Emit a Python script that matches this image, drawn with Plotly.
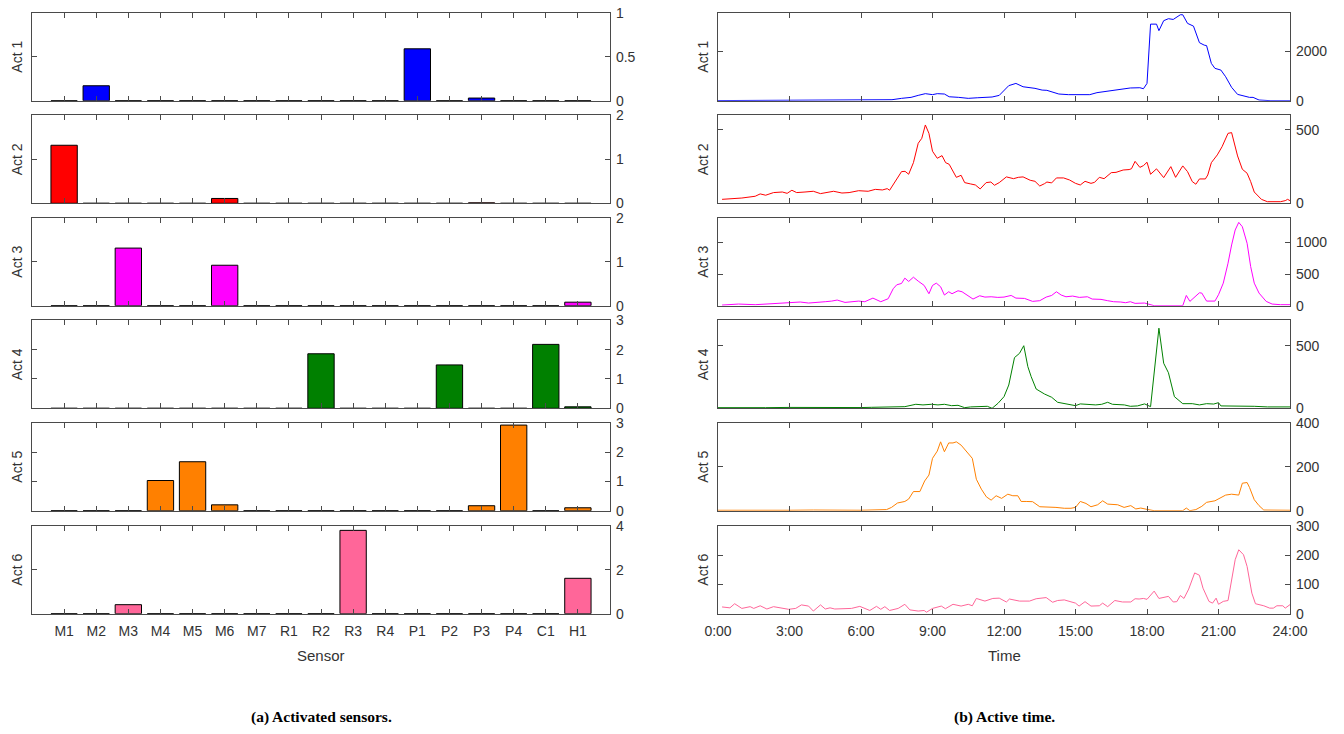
import plotly.graph_objects as go

# ---------------- data ----------------
sensors = ["M1", "M2", "M3", "M4", "M5", "M6", "M7", "R1", "R2", "R3", "R4",
           "P1", "P2", "P3", "P4", "C1", "H1"]
act_names = ["Act 1", "Act 2", "Act 3", "Act 4", "Act 5", "Act 6"]
act_colors = ["#0000ff", "#ff0000", "#ff00ff", "#008000", "#ff8000", "#ff6699"]

act1_sensor = [0, 0.17, 0, 0, 0, 0, 0, 0, 0, 0, 0, 0.59, 0, 0.03, 0, 0, 0]
act2_sensor = [1.32, 0, 0, 0, 0, 0.11, 0, 0, 0, 0, 0, 0, 0, 0.01, 0, 0, 0]
act3_sensor = [0, 0, 1.31, 0, 0, 0.92, 0, 0, 0, 0, 0, 0, 0, 0, 0, 0, 0.08]
act4_sensor = [0, 0, 0, 0, 0, 0, 0, 0, 1.86, 0, 0, 0, 1.48, 0, 0, 2.18, 0.05]
act5_sensor = [0, 0, 0, 1.03, 1.67, 0.20, 0, 0, 0, 0, 0, 0, 0, 0.17, 2.92, 0, 0.10]
act6_sensor = [0, 0, 0.41, 0, 0, 0, 0, 0, 0, 3.79, 0, 0, 0, 0, 0, 0, 1.61]

sensor_ranges = [1, 2, 2, 3, 3, 4]
sensor_dticks = [0.5, 1, 1, 1, 1, 2]

time_tickvals = [0, 3, 6, 9, 12, 15, 18, 21, 24]
time_ticktext = ["0:00", "3:00", "6:00", "9:00", "12:00", "15:00", "18:00", "21:00", "24:00"]

act1_time = [0, 7.0, 7.3, 7.7, 8.1, 8.4, 8.7, 9.0, 9.2, 9.5, 9.7, 10.1, 10.5, 10.9, 11.5,
             11.8, 12.0, 12.2, 12.5, 12.8, 13.3, 13.6, 13.8, 14.3, 14.7, 15.0, 15.4, 15.6,
             15.9, 16.2, 16.5, 16.9, 17.3, 17.7, 17.85, 18.0, 18.15, 18.4, 18.5, 18.7, 18.9,
             19.1, 19.25, 19.4, 19.5, 19.7, 19.95, 20.2, 20.4, 20.5, 20.7, 20.85, 21.1, 21.3,
             21.55, 21.8, 22.3, 22.45, 22.7, 23.2, 24]
act1_count = [5, 10, 40, 95, 135, 215, 285, 245, 285, 270, 160, 135, 95, 120, 150,
              215, 405, 610, 700, 565, 500, 430, 420, 270, 245, 245, 215, 245,
              325, 365, 405, 445, 515, 525, 485, 700, 3100, 3100, 2835, 3240, 3320,
              3290, 3400, 3480, 3480, 3130, 3020, 2350, 2250, 2230, 1510, 1310, 1240, 970,
              540, 256, 135, 135, 27, 0, 0]

act2_time = [0.17, 0.6, 1.0, 1.56, 1.77, 2.0, 2.33, 2.7, 2.9, 3.1,
             3.3, 3.65, 4.0, 4.3, 4.6, 4.85, 5.2, 5.5, 5.9, 6.3,
             6.6, 6.9, 7.1, 7.2, 7.7, 7.85, 8.0, 8.2, 8.4, 8.55,
             8.7, 8.85, 9.0, 9.2, 9.4, 9.55, 9.7, 10.0, 10.2, 10.35,
             10.6, 10.8, 11.0, 11.25, 11.45, 11.6, 11.8, 12.1, 12.4, 12.6,
             12.8, 13.1, 13.3, 13.5, 13.7, 13.8, 14.0, 14.2, 14.5, 14.75,
             15.0, 15.2, 15.4, 15.65, 15.8, 16.0, 16.2, 16.5, 16.7, 17.0,
             17.25, 17.35, 17.5, 17.7, 17.85, 18.0, 18.15, 18.4, 18.7, 19.0,
             19.2, 19.5, 19.7, 19.9, 20.05, 20.2, 20.45, 20.55, 20.7, 20.95,
             21.15, 21.4, 21.55, 21.8, 22.0, 22.2, 22.35, 22.5, 22.8, 23.05,
             23.6, 23.8, 23.9, 24.0]
act2_count = [27, 30, 36, 48, 64, 55, 73, 77, 68, 89,
              73, 77, 82, 66, 77, 82, 70, 73, 86, 82,
              95, 91, 100, 89, 216, 218, 198, 277, 409, 443,
              534, 477, 355, 307, 325, 277, 266, 177, 191, 141,
              132, 125, 98, 141, 145, 123, 141, 180, 168, 177,
              180, 157, 150, 118, 134, 145, 139, 173, 173, 159,
              136, 125, 150, 136, 143, 177, 168, 209, 211, 227,
              230, 236, 286, 245, 257, 280, 198, 235, 175, 250,
              177, 255, 216, 148, 130, 166, 166, 193, 277, 330,
              386, 477, 482, 323, 232, 205, 148, 77, 27, 11,
              11, 18, 27, 18]

act3_time = [0.17, 0.86, 1.56, 2.26, 2.6, 2.96, 3.17, 3.45, 3.8, 4.14,
             4.5, 4.77, 5.0, 5.33, 5.68, 5.9, 6.16, 6.5, 6.83, 7.14,
             7.35, 7.5, 7.7, 7.84, 8.0, 8.2, 8.4, 8.65, 8.85, 9.0,
             9.16, 9.34, 9.5, 9.68, 9.82, 10.07, 10.24, 10.5, 10.7, 10.98,
             11.2, 11.46, 11.74, 12.0, 12.3, 12.5, 12.86, 13.2, 13.5, 13.77,
             14.0, 14.2, 14.4, 14.6, 14.88, 15.16, 15.5, 15.7, 16.07, 16.35,
             16.6, 16.9, 17.1, 17.3, 17.5, 17.9, 18.1, 18.3, 19.5, 19.65,
             19.8, 20.0, 20.2, 20.3, 20.5, 20.85, 21.0, 21.2, 21.4, 21.55,
             21.7, 21.85, 22.0, 22.2, 22.35, 22.5, 22.7, 23.0, 23.25, 23.6,
             24.0]
act3_count = [10, 26, 16, 31, 42, 42, 58, 58, 42, 58,
              63, 73, 89, 52, 58, 73, 63, 120, 63, 110,
              267, 330, 351, 435, 383, 450, 388, 320, 189, 320,
              356, 299, 168, 220, 189, 236, 220, 162, 105, 157,
              136, 141, 131, 136, 162, 120, 115, 68, 79, 136,
              162, 220, 168, 141, 152, 131, 141, 105, 100, 79,
              63, 58, 47, 63, 37, 42, 21, 0, 0, 162,
              68, 131, 204, 199, 73, 73, 173, 356, 671, 959,
              1195, 1315, 1247, 985, 618, 356, 199, 68, 26, 16,
              16]

act4_time = [0, 1, 2, 3, 4, 5, 6, 6.45, 7.3, 7.84,
             8.3, 8.6, 8.95, 9.23, 9.5, 9.8, 10.07, 10.35, 10.6, 11.05,
             11.3, 11.5, 11.75, 12.0, 12.2, 12.44, 12.65, 12.83, 13.0, 13.14,
             13.35, 13.7, 14.0, 14.25, 14.5, 14.8, 15.0, 15.2, 15.5, 15.85,
             16.1, 16.35, 16.55, 17.05, 17.3, 17.6, 17.9, 18.15, 18.5, 18.7,
             18.9, 19.15, 19.5, 19.9, 20.2, 20.5, 20.8, 21.0, 21.1, 21.5,
             22.0, 22.5, 23.05, 24.0]
act4_count = [5, 8, 5, 7, 5, 8, 6, 8, 8, 13,
              32, 27, 32, 27, 32, 21, 24, 5, 11, 13,
              16, 0, 40, 93, 186, 405, 439, 500, 333, 253,
              154, 114, 88, 48, 37, 24, 21, 35, 32, 27,
              32, 48, 32, 27, 16, 19, 35, 13, 640, 360,
              284, 93, 37, 37, 27, 37, 34, 45, 19, 19,
              21, 16, 11, 11]

act5_time = [0, 1, 2, 3, 4, 5, 6, 7.07, 7.28, 7.53,
             7.84, 8.0, 8.2, 8.47, 8.67, 8.85, 9.0, 9.2, 9.34, 9.5,
             9.68, 9.86, 10.0, 10.2, 10.4, 10.67, 10.84, 11.05, 11.26, 11.46,
             11.67, 11.9, 12.16, 12.37, 12.58, 12.72, 12.93, 13.2, 13.5, 13.83,
             14.18, 14.53, 14.81, 15.0, 15.2, 15.44, 15.65, 15.93, 16.14, 16.35,
             16.77, 17.04, 17.32, 17.53, 17.74, 18.0, 18.3, 19.5, 19.65, 19.8,
             20.05, 20.3, 20.5, 20.85, 21.1, 21.3, 21.55, 21.85, 22.0, 22.2,
             22.3, 22.5, 22.7, 22.9, 24.0]
act5_count = [2, 1, 3, 2, 3, 2, 2, 5, 15, 35,
              42, 53, 87, 87, 135, 162, 238, 271, 313, 268,
              308, 308, 313, 298, 274, 238, 143, 98, 63, 48,
              68, 56, 75, 68, 68, 42, 42, 41, 18, 18,
              15, 11, 11, 15, 42, 33, 18, 27, 45, 30,
              27, 15, 23, 8, 12, 6, 0, 0, 12, 0,
              5, 20, 38, 45, 60, 71, 75, 71, 125, 128,
              106, 50, 23, 3, 2]

act6_time = [0.17, 0.5, 0.7, 1.0, 1.35, 1.5, 1.77, 2.05, 2.33, 2.68,
             2.96, 3.26, 3.5, 3.8, 4.0, 4.3, 4.5, 4.7, 4.9, 5.6,
             5.95, 6.37, 6.65, 6.83, 7.0, 7.2, 7.56, 7.84, 8.05, 8.4,
             8.65, 8.75, 9.0, 9.37, 9.54, 9.86, 10.2, 10.5, 10.67, 10.84,
             11.2, 11.53, 11.8, 12.1, 12.23, 12.65, 13.07, 13.35, 13.77, 14.04,
             14.25, 14.53, 14.81, 15.0, 15.15, 15.4, 15.65, 16.0, 16.14, 16.35,
             16.65, 16.97, 17.32, 17.5, 17.67, 17.85, 18.0, 18.3, 18.5, 18.7,
             18.9, 19.1, 19.25, 19.4, 19.55, 19.75, 20.0, 20.2, 20.35, 20.6,
             20.75, 20.9, 21.0, 21.2, 21.4, 21.7, 21.85, 22.05, 22.2, 22.4,
             22.55, 22.9, 23.15, 23.3, 23.45, 23.7, 23.8, 24.0]
act6_count = [23, 20, 34, 18, 24, 18, 27, 16, 24, 20,
              15, 18, 30, 26, 9, 30, 16, 20, 16, 18,
              25, 11, 25, 15, 24, 11, 18, 32, 13, 9,
              11, 5, 18, 26, 17, 32, 26, 32, 27, 52,
              43, 52, 53, 40, 50, 43, 43, 51, 55, 39,
              45, 47, 39, 36, 26, 41, 26, 27, 36, 24,
              45, 40, 40, 51, 50, 52, 49, 77, 52, 55,
              59, 40, 41, 62, 52, 84, 139, 131, 87, 42,
              36, 53, 32, 42, 45, 184, 218, 201, 161, 70,
              34, 27, 19, 19, 27, 27, 19, 31]

time_ranges = [3563, 600, 1389, 703, 400, 300]
time_dticks = [2000, 500, 500, 500, 200, 100]

sensor_series = [act1_sensor, act2_sensor, act3_sensor, act4_sensor, act5_sensor, act6_sensor]
time_series = [(act1_time, act1_count), (act2_time, act2_count), (act3_time, act3_count),
               (act4_time, act4_count), (act5_time, act5_count), (act6_time, act6_count)]
for t, v in time_series:
    assert len(t) == len(v), (len(t), len(v))

# ---------------- layout ----------------
# the page body margin is removed (post_script), so page pixels == figure pixels
OFF = 0
W, H = 1344, 734
LEFT = (32, 610)
RIGHT = (718, 1290)
TOPS = [12.7, 115.3, 217.7, 320.3, 422.7, 525.7]
PH = 88
AXC = "#4a4a4a"
TXT = "#333333"
FONT = "Liberation Sans"

fig = go.Figure()
layout = dict(
    width=W, height=H, margin=dict(l=0, r=0, t=0, b=0, pad=0, autoexpand=False),
    paper_bgcolor="white", plot_bgcolor="white", showlegend=False,
    font=dict(family=FONT, size=14, color=TXT),
)
annotations = []


def axis_common():
    return dict(showline=True, linecolor=AXC, linewidth=1.3, mirror="ticks",
                ticks="inside", ticklen=5, tickwidth=1, tickcolor=AXC,
                showgrid=False, zeroline=False, automargin=False,
                ticklabeloverflow="allow",
                tickfont=dict(family=FONT, size=14, color=TXT))


def px_x(p):
    return (p - OFF) / W


def px_y(p):
    return 1 - (p - OFF) / H


for i in range(6):
    top = TOPS[i]
    bot = top + PH
    ydom = [1 - bot / H, 1 - top / H]
    last = i == 5
    a = 2 * i + 1
    b = 2 * i + 2

    fig.add_trace(go.Bar(
        x=sensors, y=sensor_series[i], xaxis=f"x{a}", yaxis=f"y{a}",
        width=0.82, marker=dict(color=act_colors[i], line=dict(color="black", width=1)),
    ))
    t, v = time_series[i]
    fig.add_trace(go.Scatter(
        x=t, y=v, mode="lines", xaxis=f"x{b}", yaxis=f"y{b}",
        line=dict(color=act_colors[i], width=1),
    ))

    xa = axis_common()
    xa.update(domain=[LEFT[0] / W, LEFT[1] / W], anchor=f"y{a}", type="category",
              range=[-1, 17], showticklabels=last, ticklabelstandoff=4)
    ya = axis_common()
    ya.update(domain=ydom, anchor=f"x{a}", side="right",
              range=[0, sensor_ranges[i] * 1.0005],
              tick0=0, dtick=sensor_dticks[i], ticklabelstandoff=2)
    xb = axis_common()
    xb.update(domain=[RIGHT[0] / W, RIGHT[1] / W], anchor=f"y{b}", range=[0, 24],
              tickmode="array", tickvals=time_tickvals, ticktext=time_ticktext,
              showticklabels=last, ticklabelstandoff=4)
    yb = axis_common()
    yb.update(domain=ydom, anchor=f"x{b}", side="right", range=[0, time_ranges[i]],
              tick0=0, dtick=time_dticks[i], ticklabelstandoff=2)

    layout[f"xaxis{a}" if a > 1 else "xaxis"] = xa
    layout[f"yaxis{a}" if a > 1 else "yaxis"] = ya
    layout[f"xaxis{b}"] = xb
    layout[f"yaxis{b}"] = yb

    ymid = 1 - (top + PH / 2) / H
    for xp in (17, 703):
        annotations.append(dict(x=px_x(xp), y=ymid, xref="paper", yref="paper",
                                text=act_names[i], textangle=-90, showarrow=False,
                                xanchor="center", yanchor="middle",
                                font=dict(family=FONT, size=14, color=TXT)))

annotations.append(dict(x=px_x(321), y=px_y(655), xref="paper", yref="paper",
                        text="Sensor", showarrow=False, xanchor="center", yanchor="middle",
                        font=dict(family=FONT, size=15, color=TXT)))
annotations.append(dict(x=px_x(1004), y=px_y(655), xref="paper", yref="paper",
                        text="Time", showarrow=False, xanchor="center", yanchor="middle",
                        font=dict(family=FONT, size=15, color=TXT)))
annotations.append(dict(x=px_x(321), y=px_y(717), xref="paper", yref="paper",
                        text="<b>(a) Activated sensors.</b>", showarrow=False,
                        xanchor="center", yanchor="middle",
                        font=dict(family="Liberation Serif", size=15.5, color="black")))
annotations.append(dict(x=px_x(1004), y=px_y(717), xref="paper", yref="paper",
                        text="<b>(b) Active time.</b>", showarrow=False,
                        xanchor="center", yanchor="middle",
                        font=dict(family="Liberation Serif", size=15.5, color="black")))

layout["annotations"] = annotations
fig.update_layout(**layout)
fig.write_html(
    "out.html",
    config={"displayModeBar": False},
    post_script=("document.body.style.margin='0';"
                 "document.body.style.overflow='hidden';"
                 "document.documentElement.style.overflow='hidden';"),
)
